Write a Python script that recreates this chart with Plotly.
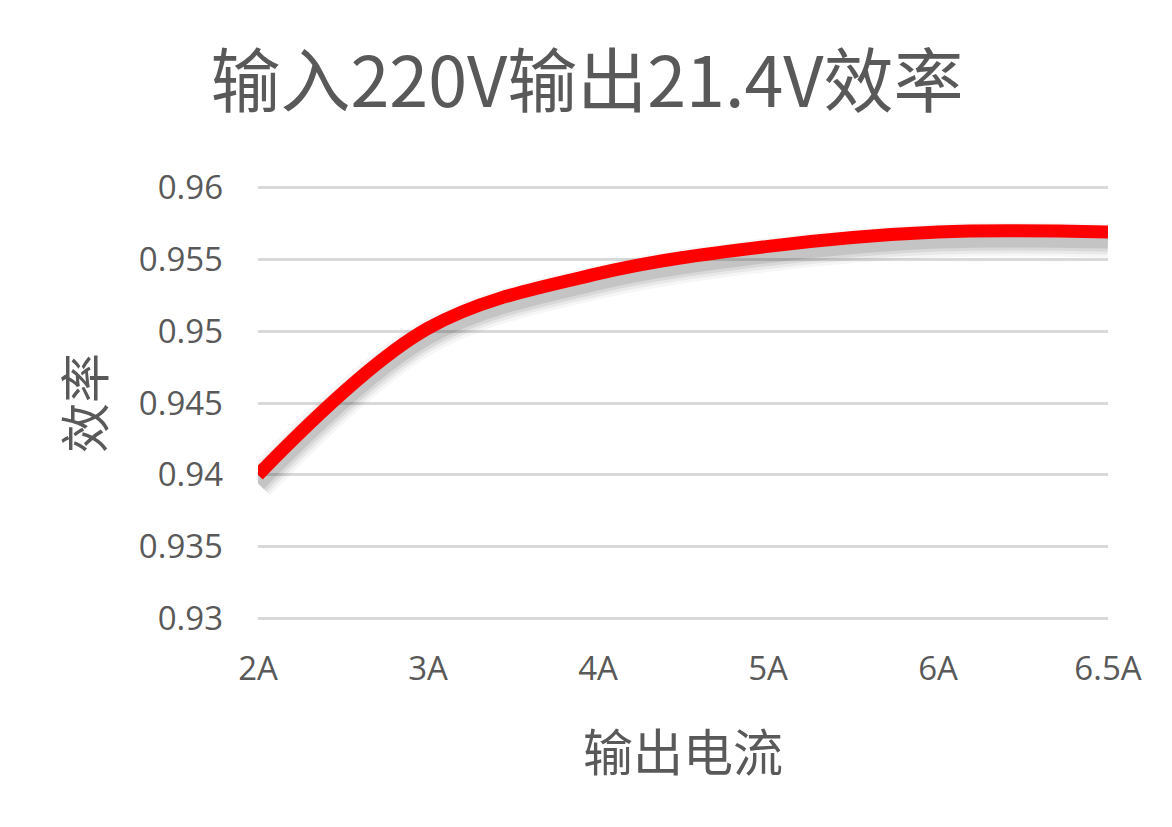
import plotly.graph_objects as go

categories = ["2A", "3A", "4A", "5A", "6A", "6.5A"]
efficiency = [0.940, 0.9502, 0.9540, 0.9559, 0.9569, 0.9569]
y_ticks = [0.93, 0.935, 0.94, 0.945, 0.95, 0.955, 0.96]
y_tick_text = ["0.93", "0.935", "0.94", "0.945", "0.95", "0.955", "0.96"]

title_text = "输入220V输出21.4V效率"
x_title = "输出电流"
y_title = "效率"

grey = "#595959"
cjk = "Noto Sans CJK SC"
num_font = "Open Sans"

y_range = [0.9299, 0.9601]
shadow_shift = 0.0006  # drop-shadow offset in data units

# figure geometry (page body offset of 8px accounted for)
W, H = 1172, 827
PX_PER_UNIT = 432 / 0.03
L, PW = 250, 850
PH = (y_range[1] - y_range[0]) * PX_PER_UNIT
T = (187 - 8) - (y_range[1] - 0.96) * PX_PER_UNIT

fig = go.Figure()

shadow_y = [v - shadow_shift for v in efficiency]
for w, a in [(34, 0.035), (28, 0.05), (22, 0.07), (16, 0.09)]:
    fig.add_trace(go.Scatter(
        x=categories, y=shadow_y, mode="lines",
        line=dict(color=f"rgba(0,0,0,{a})", width=w, shape="spline", smoothing=1.0),
        hoverinfo="skip", showlegend=False))

fig.add_trace(go.Scatter(
    x=categories, y=efficiency, mode="lines",
    line=dict(color="#ff0000", width=13, shape="spline", smoothing=1.0),
    showlegend=False))

fig.update_layout(
    width=W, height=H,
    paper_bgcolor="white", plot_bgcolor="white",
    margin=dict(l=L, r=W - L - PW, t=T, b=H - T - PH, autoexpand=False),
    title=dict(text=title_text, x=(587 - 8) / W, xanchor="center",
               y=1 - (82 - 8) / H, yanchor="middle",
               font=dict(family=cjk, size=70, color=grey)),
    xaxis=dict(range=[0, 5], showgrid=False, zeroline=False, showline=False,
               tickfont=dict(family=num_font, size=33, color=grey),
               ticklabelstandoff=26),
    yaxis=dict(range=y_range, tickvals=y_ticks, ticktext=y_tick_text,
               showgrid=True, gridcolor="#d9d9d9", gridwidth=2.5, zeroline=False, showline=False,
               tickfont=dict(family=num_font, size=33, color=grey),
               ticklabelstandoff=34),
    annotations=[
        dict(text=x_title, xref="paper", yref="paper", x=0.5,
             y=(PH + T - (750 - 8)) / PH, xanchor="center", yanchor="middle",
             showarrow=False, font=dict(family=cjk, size=50, color=grey)),
        dict(text=y_title, xref="paper", yref="paper", x=((82 - 8) - L) / PW,
             y=0.5, xanchor="center", yanchor="middle", textangle=-90,
             showarrow=False, font=dict(family=cjk, size=50, color=grey)),
    ],
)

fig.write_html("out.html")
